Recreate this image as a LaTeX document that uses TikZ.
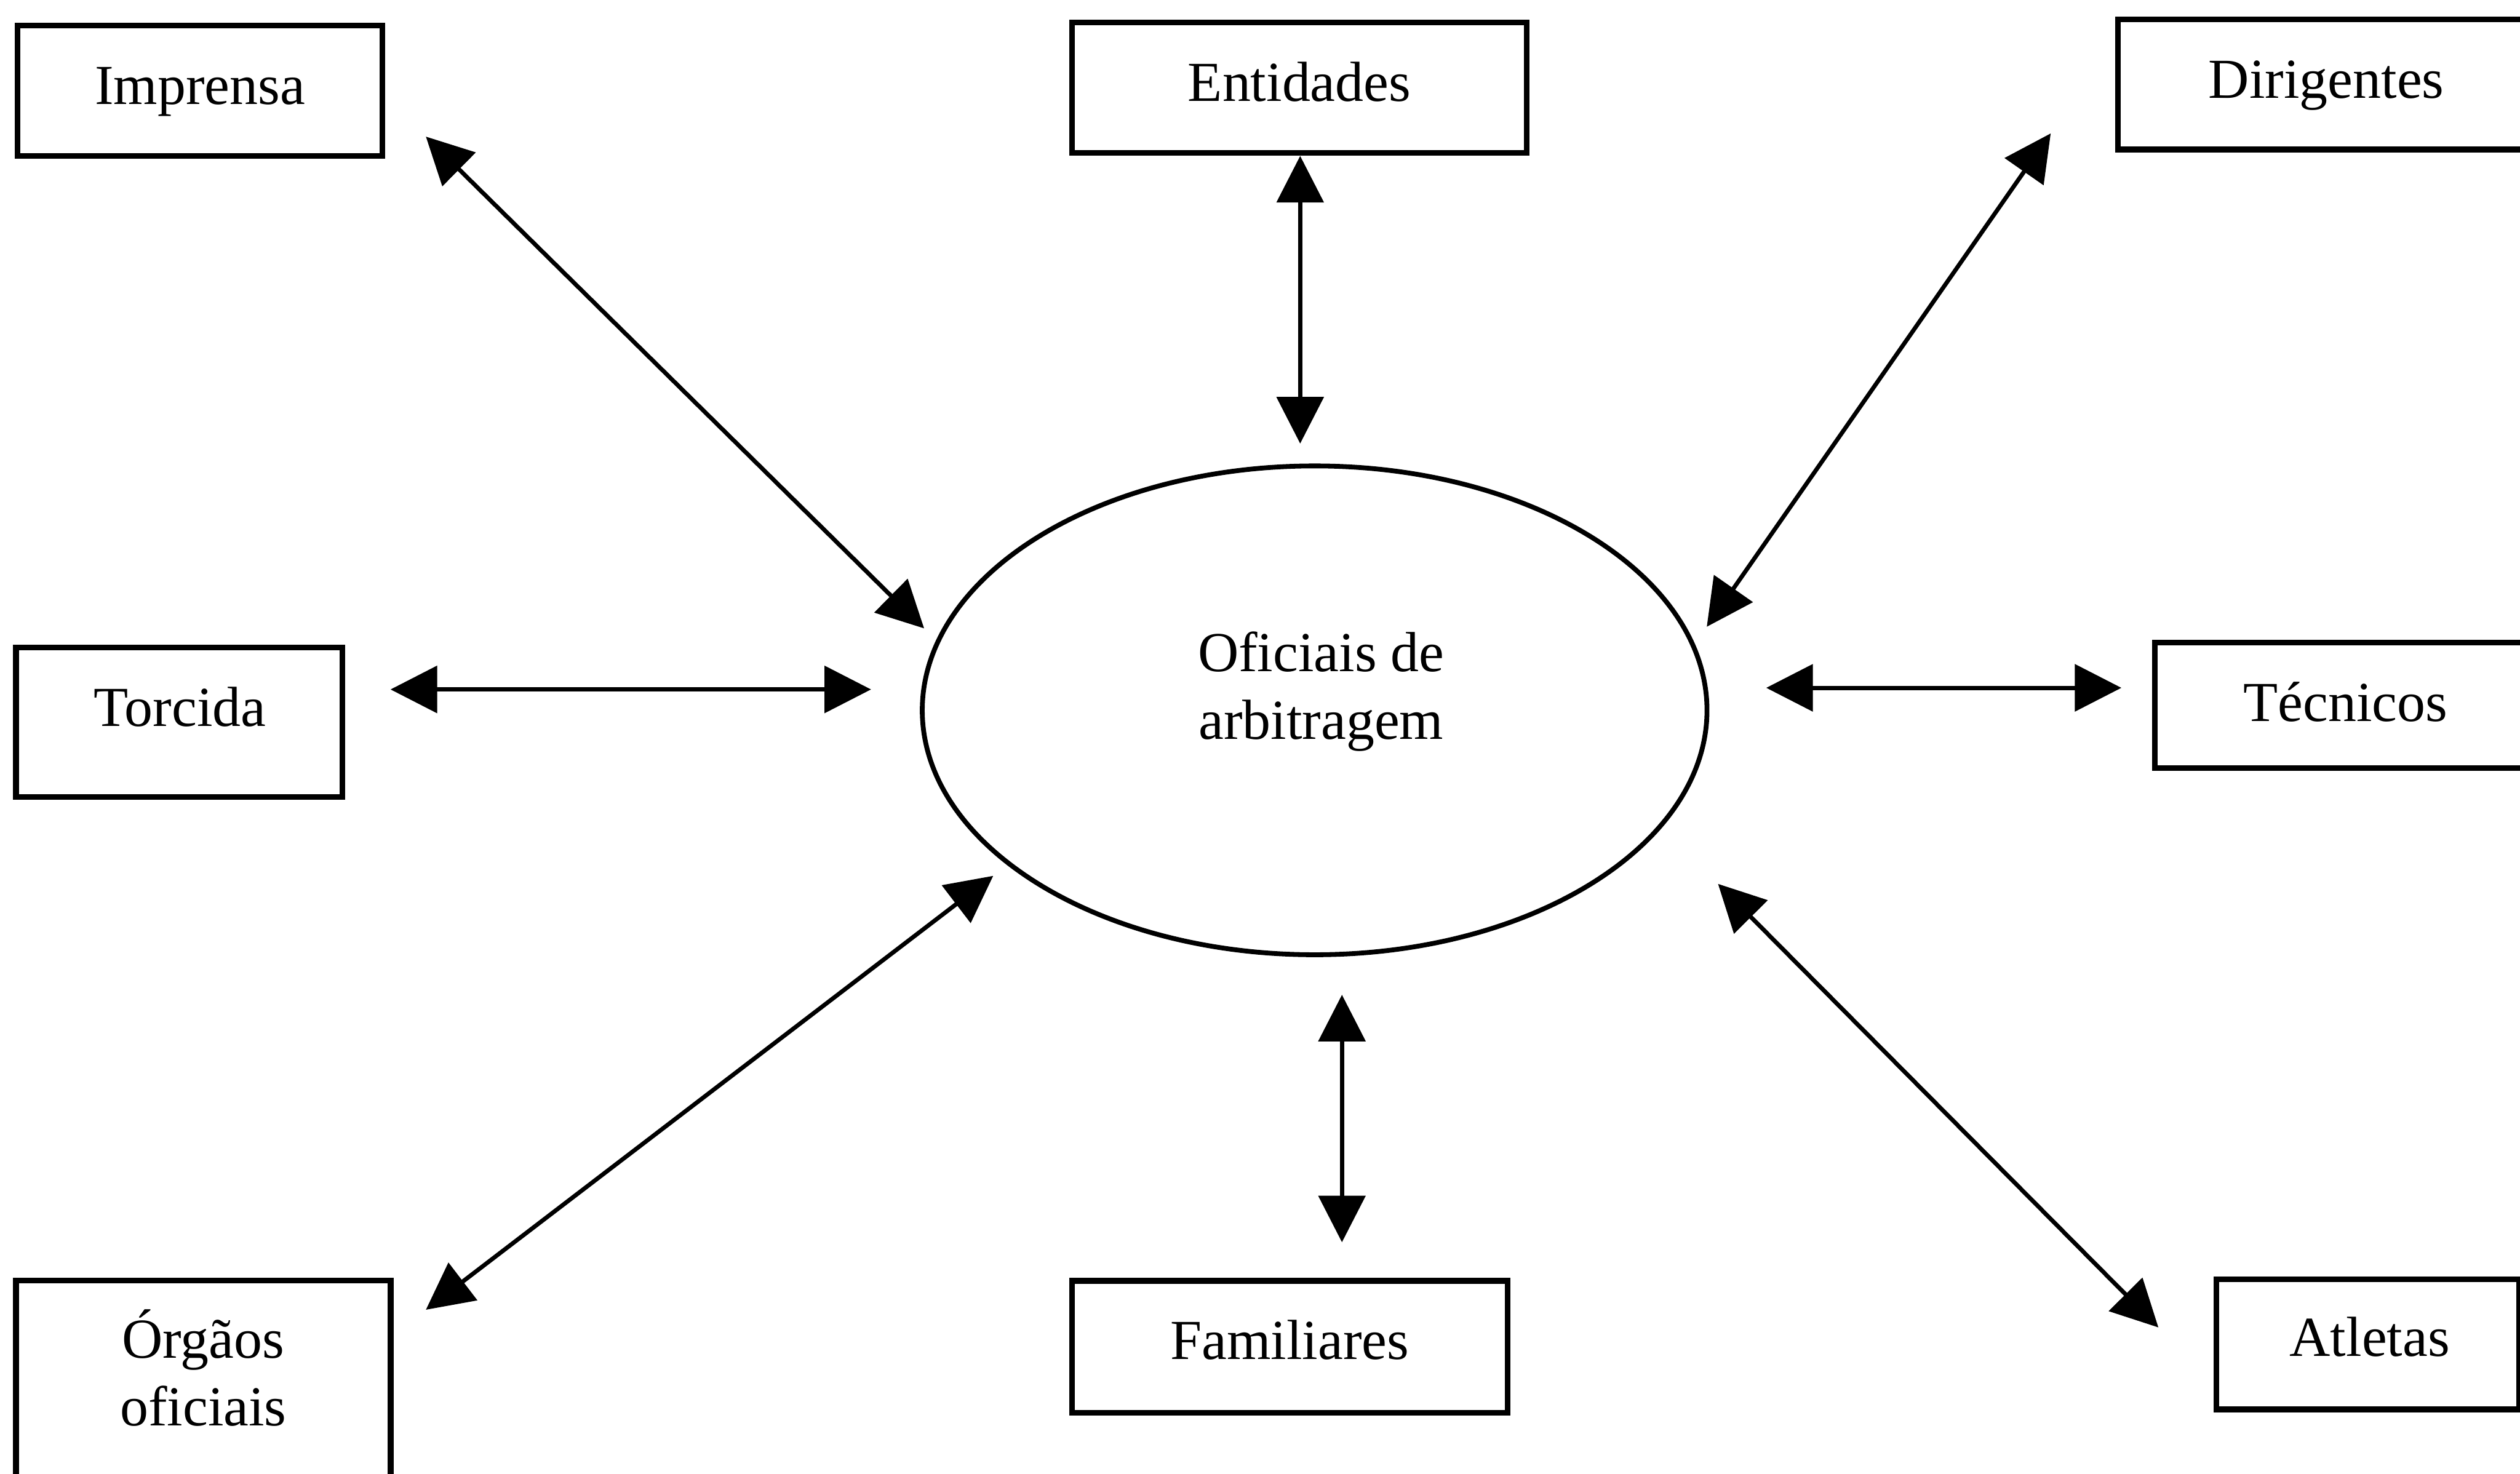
\documentclass[tikz,border=0pt]{standalone}
\usepackage{fontspec}
\setmainfont{Liberation Serif}
\usetikzlibrary{arrows.meta,shapes.geometric}
\begin{document}
\begin{tikzpicture}[x=0.01cm,y=-0.01cm,
  box/.style={draw, line width=1pt, rectangle, inner sep=0pt},
  lbl/.style={anchor=base, inner sep=0pt, font=\fontsize{10}{12}\selectfont},
  link/.style={line width=0.75pt, {Triangle[length=2.9mm,width=2.9mm]}-{Triangle[length=2.9mm,width=2.9mm]}},
]
\useasboundingbox (0,0) rectangle (1568,917);

% boxes
\node[box, minimum width=2.27cm, minimum height=0.81cm] (imp) at (124.5,56.5) {};
\node[box, minimum width=2.83cm, minimum height=0.81cm] (ent) at (808.5,54.5) {};
\node[box, minimum width=2.59cm, minimum height=0.81cm] (dir) at (1447.5,52.5) {};
\node[box, minimum width=2.03cm, minimum height=0.93cm] (tor) at (111.5,449.5) {};
\node[box, minimum width=2.39cm, minimum height=0.78cm] (tec) at (1460.5,439) {};
\node[box, minimum width=2.33cm, minimum height=1.65cm] (org) at (126.5,879.5) {};
\node[box, minimum width=2.71cm, minimum height=0.82cm] (fam) at (802.5,838) {};
\node[box, minimum width=1.885cm, minimum height=0.81cm] (atl) at (1473.25,836.5) {};
\node[draw, ellipse, line width=0.85pt, inner sep=0pt, minimum width=4.88cm, minimum height=3.04cm] (ofi) at (818,442) {};

% labels
\node[lbl] (timp) at (124.5,65) {Imprensa};
\node[lbl] (tent) at (808.5,63) {Entidades};
\node[lbl] (tdir) at (1447.5,61) {Dirigentes};
\node[lbl] (ttor) at (112,452) {Torcida};
\node[lbl] (ttec) at (1459.5,449) {Técnicos};
\node[lbl] (tofi1) at (822,418) {Oficiais de};
\node[lbl] (tofi2) at (822,460) {arbitragem};
\node[lbl] (torg1) at (126.5,845) {Órgãos};
\node[lbl] (torg2) at (126.5,887) {oficiais};
\node[lbl] (tfam) at (802.5,846) {Familiares};
\node[lbl] (tatl) at (1474.5,844) {Atletas};

% connector ends
\coordinate (i1) at (265,85);   \coordinate (i2) at (575,391);
\coordinate (e1) at (809,97);   \coordinate (e2) at (809,276);
\coordinate (d1) at (1276,83);  \coordinate (d2) at (1062,390);
\coordinate (t1) at (243,429);  \coordinate (t2) at (542,429);
\coordinate (c1) at (1099,428); \coordinate (c2) at (1320,428);
\coordinate (o1) at (265,815);  \coordinate (o2) at (618,545);
\coordinate (f1) at (835,619);  \coordinate (f2) at (835,773);
\coordinate (a1) at (1069,550); \coordinate (a2) at (1343,826);

\draw[link] (i1) -- (i2);
\draw[link] (e1) -- (e2);
\draw[link] (d1) -- (d2);
\draw[link] (t1) -- (t2);
\draw[link] (c1) -- (c2);
\draw[link] (o1) -- (o2);
\draw[link] (f1) -- (f2);
\draw[link] (a1) -- (a2);
\end{tikzpicture}
\end{document}
